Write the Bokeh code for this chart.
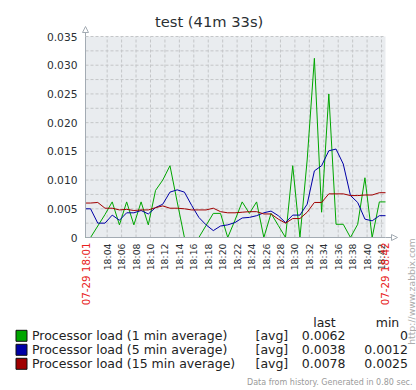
import math
from bokeh.plotting import figure
from bokeh.models import (Range1d, FixedTicker, CustomJSTickFormatter, Label,
                          Arrow, NormalHead, BoxAnnotation, ColumnDataSource)
from bokeh.embed import file_html
from bokeh.resources import INLINE

# ---------------- data ----------------
TITLE = "test (41m 33s)"
PERIOD_START = "18:01:00"
PERIOD_END = "18:42:33"
START_LABEL = "07-29 18:01"
END_LABEL = "07-29 18:42"

SAMPLE_TIMES = [
    "18:01:00", "18:01:42", "18:02:42", "18:03:42", "18:04:42", "18:05:42",
    "18:06:42", "18:07:42", "18:08:42", "18:09:42", "18:10:42", "18:11:42",
    "18:12:42", "18:13:42", "18:14:42", "18:15:42", "18:16:42", "18:17:42",
    "18:18:42", "18:19:42", "18:20:42", "18:21:42", "18:22:42", "18:23:42",
    "18:24:42", "18:25:42", "18:26:42", "18:27:42", "18:28:42", "18:29:42",
    "18:30:42", "18:31:42", "18:32:42", "18:33:42", "18:34:42", "18:35:42",
    "18:36:42", "18:37:42", "18:38:42", "18:39:42", "18:40:42", "18:41:42",
    "18:42:33",
]

LOAD_1 = [
    0.0, 0.0, 0.0020, 0.0040, 0.0062, 0.0022, 0.0062, 0.0022, 0.0062, 0.0022,
    0.0082, 0.0100, 0.0125, 0.0062, 0.0, 0.0, 0.0, 0.0021, 0.0042, 0.0042,
    0.0, 0.0030, 0.0062, 0.0042, 0.0062, 0.0, 0.0042, 0.0021, 0.0, 0.0125,
    0.0, 0.0135, 0.0312, 0.0044, 0.0250, 0.0023, 0.0023, 0.0, 0.0023, 0.0104,
    0.0, 0.0062, 0.0062,
]
LOAD_5 = [
    0.0050, 0.0050, 0.0025, 0.0025, 0.0039, 0.0030, 0.0043, 0.0043, 0.0047, 0.0041,
    0.0052, 0.0058, 0.0079, 0.0083, 0.0079, 0.0056, 0.0035, 0.0022, 0.0012, 0.0020,
    0.0022, 0.0026, 0.0034, 0.0035, 0.0038, 0.0043, 0.0046, 0.0038, 0.0026, 0.0039,
    0.0039, 0.0058, 0.0116, 0.0125, 0.0151, 0.0154, 0.0128, 0.0073, 0.0061, 0.0032,
    0.0029, 0.0038, 0.0038,
]
LOAD_15 = [
    0.0060, 0.0060, 0.0061, 0.0051, 0.0051, 0.0048, 0.0049, 0.0047, 0.0048, 0.0048,
    0.0052, 0.0055, 0.0051, 0.0051, 0.0050, 0.0048, 0.0048, 0.0048, 0.0051, 0.0045,
    0.0043, 0.0043, 0.0044, 0.0045, 0.0045, 0.0041, 0.0041, 0.0032, 0.0025, 0.0033,
    0.0033, 0.0044, 0.0061, 0.0061, 0.0076, 0.0076, 0.0076, 0.0073, 0.0073, 0.0074,
    0.0074, 0.0078, 0.0078,
]

SERIES_NAMES = [
    "Processor load (1 min average)",
    "Processor load (5 min average)",
    "Processor load (15 min average)",
]
SERIES_COLORS = ["#00A600", "#0000A6", "#A00000"]
SERIES_FUNC = ["[avg]", "[avg]", "[avg]"]
LAST_VALUES = ["0.0062", "0.0038", "0.0078"]
MIN_VALUES = ["0", "0.0012", "0.0025"]

X_TICKS = [4, 6, 8, 10, 12, 14, 16, 18, 20, 22, 24, 26, 28, 30, 32, 34, 36, 38, 40, 42]
X_TICK_LABELS = ["18:04", "18:06", "18:08", "18:10", "18:12", "18:14", "18:16",
                 "18:18", "18:20", "18:22", "18:24", "18:26", "18:28", "18:30",
                 "18:32", "18:34", "18:36", "18:38", "18:40", "18:42"]
Y_TICKS = [0, 0.005, 0.01, 0.015, 0.02, 0.025, 0.03, 0.035]
Y_TICK_LABELS = ["0", "0.005", "0.010", "0.015", "0.020", "0.025", "0.030", "0.035"]
Y_MINOR = [0.0025, 0.0075, 0.0125, 0.0175, 0.0225, 0.0275, 0.0325]
Y_MAX = 0.035

FOOTER = "Data from history. Generated in 0.80 sec."
URL = "http://www.zabbix.com"


def to_min(s):
    h, m, sec = (int(v) for v in s.split(":"))
    return (h - 18) * 60 + m + sec / 60.0


x_start = to_min(PERIOD_START)
x_end = to_min(PERIOD_END)
times = [to_min(t) for t in SAMPLE_TIMES]

# ---------------- layout (pixels of the 416x390 canvas) ----------------
FONT = "DejaVu Sans"
W, H = 416, 390
FL, FR, FT, FB = 85, 385, 36, 237   # plot area edges

kx = (FR - FL) / (x_end - x_start)   # px per minute
ky = (FB - FT) / Y_MAX               # px per load unit
xr = Range1d(x_start - FL / kx, x_end + (W - FR) / kx)
yr = Range1d(0 - (H - FB) / ky, Y_MAX + FT / ky)

p = figure(width=W, height=H, output_backend="svg", toolbar_location=None,
           title=None, x_range=xr, y_range=yr,
           min_border_left=0, min_border_right=0, min_border_top=0, min_border_bottom=0)
p.outline_line_color = None
p.background_fill_color = "white"
p.border_fill_color = "white"
p.xgrid.visible = False
p.ygrid.visible = False

# plot area background
p.add_layout(BoxAnnotation(left=x_start, right=x_end, bottom=0, top=Y_MAX,
                           fill_color="#E9ECEF", fill_alpha=1.0, line_color=None,
                           level="underlay"))

# dashed grid
grid_col = "#C4C6C8"
p.segment(x0=X_TICKS, y0=[0] * len(X_TICKS), x1=X_TICKS, y1=[Y_MAX] * len(X_TICKS),
          line_color=grid_col, line_dash="3 2", line_width=1)
hgrid = sorted([t for t in Y_TICKS if t > 0] + Y_MINOR)
p.segment(x0=[x_start] * len(hgrid), y0=hgrid, x1=[x_end] * len(hgrid), y1=hgrid,
          line_color=grid_col, line_dash="3 2", line_width=1)

# series
for vals, col in zip([LOAD_1, LOAD_5, LOAD_15], SERIES_COLORS):
    src = ColumnDataSource(dict(x=times, y=vals))
    p.line("x", "y", source=src, line_color=col, line_width=1)

# axes
fmt_code = """
let best = -1;
for (let i = 0; i < tvals.length; i++) { if (Math.abs(tvals[i] - tick) < 1e-9) best = i; }
return best >= 0 ? tlabels[best] : "";
"""
ax_col = "#A3ABB3"
p.yaxis.ticker = FixedTicker(ticks=Y_TICKS)
p.yaxis.formatter = CustomJSTickFormatter(args=dict(tvals=Y_TICKS, tlabels=Y_TICK_LABELS), code=fmt_code)
p.yaxis.fixed_location = x_start
p.yaxis.bounds = (0, Y_MAX)
p.xaxis.ticker = FixedTicker(ticks=X_TICKS)
p.xaxis.formatter = CustomJSTickFormatter(args=dict(tvals=X_TICKS, tlabels=X_TICK_LABELS), code=fmt_code)
p.xaxis.fixed_location = 0
p.xaxis.bounds = (x_start, x_end)
p.xaxis.major_label_orientation = math.pi / 2

for ax in (p.xaxis, p.yaxis):
    ax.axis_line_color = ax_col
    ax.major_tick_line_color = None
    ax.minor_tick_line_color = None
    ax.major_tick_out = 0
    ax.major_tick_in = 0
    ax.minor_tick_out = 0
    ax.minor_tick_in = 0
    ax.major_label_text_font = FONT
    ax.major_label_text_color = "#2A2F33"
p.yaxis.major_label_text_font_size = "10.7px"
p.yaxis.major_label_standoff = 8
p.xaxis.major_label_text_font_size = "9.3px"
p.xaxis.major_label_standoff = 6

# axis arrows
p.add_layout(Arrow(end=NormalHead(size=6, fill_color="white", line_color=ax_col, line_width=1),
                   x_start=x_start, y_start=Y_MAX, x_end=x_start, y_end=Y_MAX + 10 / ky,
                   line_color=ax_col, line_width=1))
p.add_layout(Arrow(end=NormalHead(size=6, fill_color="white", line_color=ax_col, line_width=1),
                   x_start=x_end, y_start=0, x_end=x_end + 12 / kx, y_end=0,
                   line_color=ax_col, line_width=1))


def lab(text, X, Y, size, color="#222222", align="left", angle=0.0, baseline="middle"):
    p.add_layout(Label(text=text, x=X, y=H - Y, x_units="screen", y_units="screen",
                       text_font=FONT, text_font_size=size, text_color=color,
                       text_align=align, text_baseline=baseline, angle=angle))


lab(TITLE, 208.6, 20.5, "14.7px", color="#2A2F33", align="center")

red = "#E82020"
lab(START_LABEL, FL, 242, "10.3px", color=red, align="right", angle=math.pi / 2)
lab(END_LABEL, FR - 1, 242, "10.3px", color=red, align="right", angle=math.pi / 2)

# legend table
rows = [335.3, 349.3, 363.3]
lab("last", 324, 322, "12.5px", align="center")
lab("min", 387, 322, "12.5px", align="center")
for i, yc in enumerate(rows):
    p.add_layout(BoxAnnotation(left=15.5, right=26.5, top=H - (yc - 5.5), bottom=H - (yc + 5.5),
                               left_units="screen", right_units="screen",
                               top_units="screen", bottom_units="screen",
                               fill_color=SERIES_COLORS[i], fill_alpha=1.0,
                               line_color="#111111", line_width=1, line_alpha=1.0))
    lab(SERIES_NAMES[i], 31.5, yc, "12.5px")
    lab(SERIES_FUNC[i], 255, yc, "12.5px")
    lab(LAST_VALUES[i], 345, yc, "12.5px", align="right")
    lab(MIN_VALUES[i], 407.5, yc, "12.5px", align="right")

lab(URL, 410.5, 291, "9.3px", color="#ABABAB", align="center", angle=math.pi / 2)
lab(FOOTER, 412, 382, "8px", color="#9A9A9A", align="right")

open("out.html", "w").write(file_html(p, INLINE))
